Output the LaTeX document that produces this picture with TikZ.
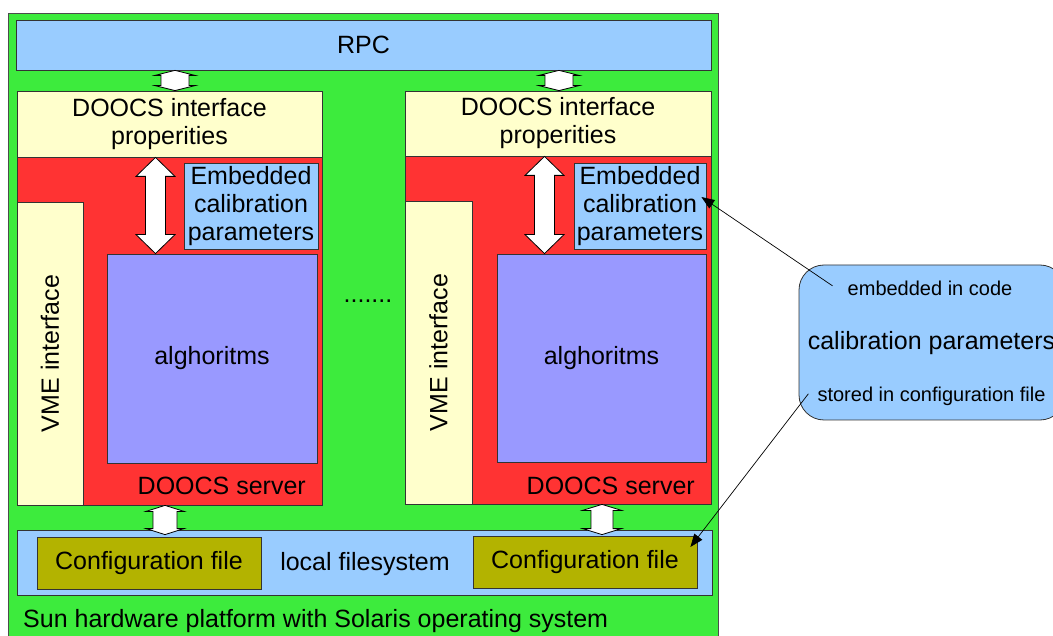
\documentclass[tikz,border=0pt]{standalone}
\usepackage{fontspec}
\setmainfont{Liberation Sans}
\usetikzlibrary{arrows.meta, calc}
\definecolor{hwgreen}{HTML}{3DEB3D}
\definecolor{ltblue}{HTML}{99CCFF}
\definecolor{srvred}{HTML}{FF3333}
\definecolor{cream}{HTML}{FFFFCC}
\definecolor{algpurple}{HTML}{9999FF}
\definecolor{olive}{HTML}{B3B300}
\definecolor{edge}{HTML}{333333}

% fat white double arrow: x, top anchor, bottom anchor, half head, half shaft, head length
\newcommand{\fatarrow}[6]{%
  \draw[fat] let \p1=(#2), \p2=(#3) in
    (#1,\y1) -- (#1+#4,\y1-#6) -- (#1+#5,\y1-#6) -- (#1+#5,\y2+#6) -- (#1+#4,\y2+#6) -- (#1,\y2)
    -- (#1-#4,\y2+#6) -- (#1-#5,\y2+#6) -- (#1-#5,\y1-#6) -- (#1-#4,\y1-#6) -- cycle;}

\begin{document}
\begin{tikzpicture}[x=1pt, y=-1pt,
  box/.style={draw=edge, line width=0.8pt, inner sep=0pt, align=center, font=\fontsize{25}{28}\selectfont},
  lbl/.style={inner sep=0pt, font=\fontsize{25}{28}\selectfont},
  small/.style={inner sep=0pt, font=\fontsize{20}{24}\selectfont},
  fat/.style={draw=black, fill=white, line width=0.8pt, line join=miter},
  callarrow/.style={-{Triangle[length=13pt, width=10pt]}, line width=0.7pt}]

\useasboundingbox (0,0) rectangle (1053,636);

% Platform
\node[box, fill=hwgreen, draw=black!70, minimum width=710pt, minimum height=640pt] (sun) at (363,333) {};
\node[lbl, anchor=base west] (suntxt) at (23,627) {Sun hardware platform with Solaris operating system};

% RPC
\node[box, fill=ltblue, minimum width=695pt, minimum height=50pt] (rpc) at (363.5,45) {RPC};

% --- left server ---
\node[box, fill=cream, minimum width=305pt, minimum height=66pt] (if1) at (169.5,124) {DOOCS interface\\properities};
\node[box, fill=srvred, minimum width=305pt, minimum height=348pt] (srv1) at (169.5,331) {};
\node[box, fill=cream, rotate=90, minimum width=303pt, minimum height=66pt] (vme1) at (50,353.5) {VME interface};
\node[box, fill=ltblue, minimum width=134pt, minimum height=86pt] (emb1) at (251,206) {Embedded\\calibration\\parameters};
\node[box, fill=algpurple, minimum width=210pt, minimum height=209pt] (alg1) at (212,358.5) {alghoritms};
\node[lbl, anchor=base east] (srvtxt1) at (306,494) {DOOCS server};

% --- right server ---
\node[box, fill=cream, minimum width=306pt, minimum height=65pt] (if2) at (558,123.5) {DOOCS interface\\properities};
\node[box, fill=srvred, minimum width=306pt, minimum height=348pt] (srv2) at (558,330) {};
\node[box, fill=cream, rotate=90, minimum width=303pt, minimum height=67pt] (vme2) at (438.5,352.5) {VME interface};
\node[box, fill=ltblue, minimum width=132pt, minimum height=86pt] (emb2) at (640,206) {Embedded\\calibration\\parameters};
\node[box, fill=algpurple, minimum width=209pt, minimum height=208pt] (alg2) at (601.5,358) {alghoritms};
\node[lbl, anchor=base east] (srvtxt2) at (695,494) {DOOCS server};

\node[lbl, anchor=base] (dots) at (368,303) {.......};

% local filesystem
\node[box, fill=ltblue, minimum width=695pt, minimum height=65pt] (fs) at (364.5,562.5) {};
\node[box, fill=olive, minimum width=224pt, minimum height=52pt] (cfg1) at (149,563) {Configuration file};
\node[box, fill=olive, minimum width=224pt, minimum height=52pt] (cfg2) at (585,562) {Configuration file};
\node[lbl, anchor=base] (fstxt) at (365,570) {local filesystem};

% fat arrows
\fatarrow{175pt}{rpc.south}{if1.north}{20pt}{14pt}{5pt}
\fatarrow{559pt}{rpc.south}{if2.north}{20pt}{14pt}{5pt}
\fatarrow{155.5pt}{if1.south}{alg1.north}{19.5pt}{10pt}{19pt}
\fatarrow{544.5pt}{if2.south}{alg2.north}{19.5pt}{10pt}{19pt}
\fatarrow{165pt}{srv1.south}{$(fs.north)+(0,5)$}{19pt}{12pt}{6pt}
\fatarrow{602pt}{srv2.south}{$(fs.north)+(0,5)$}{19.5pt}{11pt}{6pt}

% calibration parameters callout
\node[draw=edge, fill=ltblue, line width=0.8pt, rounded corners=25pt, minimum width=266pt, minimum height=155pt] (calib) at (932,342.5) {};
\node[small, anchor=base] (codetxt) at (930,296) {embedded in code};
\node[lbl, anchor=base] (calibtxt) at (931.5,350) {calibration parameters};
\node[small, anchor=base] (storetxt) at (931.5,402) {stored in configuration file};

\draw[callarrow] ([xshift=-15pt,yshift=3pt]codetxt.west) -- ([xshift=-5pt,yshift=9pt]emb2.east);
\draw[callarrow] ([xshift=-9pt,yshift=3pt]storetxt.west) -- ([xshift=-7pt,yshift=15pt]cfg2.east);

\end{tikzpicture}
\end{document}
